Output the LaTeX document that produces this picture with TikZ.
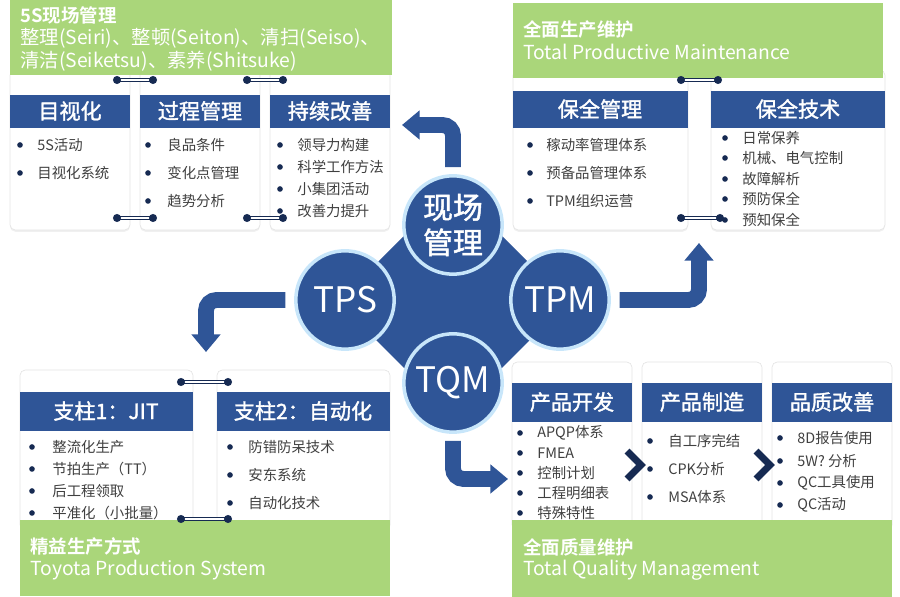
\documentclass[tikz,border=0pt]{standalone}
\usepackage{fontspec}
\setmainfont{Noto Sans CJK SC}[BoldFont={Noto Sans CJK SC Bold}]
\newfontfamily\headfont{Noto Sans CJK SC}[FakeBold=1.6]
\usetikzlibrary{arrows.meta,shadows}
\definecolor{tpblue}{RGB}{47,85,151}
\definecolor{tpgreen}{RGB}{170,214,122}
\definecolor{tpnavy}{RGB}{22,42,82}
\definecolor{tphalo}{RGB}{200,230,250}

\begin{document}
\begin{tikzpicture}[x=0.02cm,y=-0.02cm,
  card/.style={fill=white,draw=black!10,rounded corners=3pt,drop shadow={shadow xshift=0pt,shadow yshift=-1pt,opacity=0.12}},
  band/.style={fill=tpblue},
  panel/.style={fill=tpgreen},
  head/.style={text=white,font=\headfont\fontsize{12}{14}\selectfont,inner sep=0pt},
  item/.style={anchor=west,font=\fontsize{8.2}{10}\selectfont,text=black!75,inner sep=0pt},
  ptitle/.style={anchor=west,text=white,font=\bfseries\fontsize{10.5}{12}\selectfont,inner sep=0pt},
  psub/.style={anchor=west,text=white,font=\fontsize{11}{13}\selectfont,inner sep=0pt},
  hub/.style={circle,fill=tpblue,draw=tphalo,line width=2pt,minimum size=56pt,inner sep=0pt,text=white},
  bigarrow/.style={draw=tpblue,line width=9pt,rounded corners=6pt,-{Triangle[width=16pt,length=10pt]}},
  link/.style={draw=tpnavy,double=white,double distance=1.3pt,line width=0.6pt},
  dot/.style={fill=tpnavy}]
\useasboundingbox (0,0) rectangle (900,597);

% cards, top left
\draw[card] (10,70) rectangle (130,230);
\draw[card] (140,70) rectangle (260,230);
\draw[card] (270,70) rectangle (390,230);
\fill[band] (10,95) rectangle (130,128);
\fill[band] (140,95) rectangle (260,128);
\fill[band] (270,95) rectangle (390,128);
\node[head] (mush) at (70,111) {目视化};
\node[head] (guoc) at (200,111) {过程管理};
\node[head] (chix) at (330,111) {持续改善};
\foreach \y/\t [count=\i] in {145/5S活动,173/目视化系统}
  {\fill[dot] (20,\y) circle (1.6pt); \node[item] (ma\i) at (37,\y) {\t};}
\foreach \y/\t [count=\i] in {145/良品条件,173/变化点管理,201/趋势分析}
  {\fill[dot] (148,\y) circle (1.6pt); \node[item] (mb\i) at (167,\y) {\t};}
\foreach \y/\t [count=\i] in {145/领导力构建,167/科学工作方法,189/小集团活动,211/改善力提升}
  {\fill[dot] (280,\y) circle (1.6pt); \node[item] (mc\i) at (297,\y) {\t};}

% cards, top right
\draw[card] (513,70) rectangle (688,230);
\draw[card] (711,70) rectangle (885,230);
\fill[band] (513,91) rectangle (688,128);
\fill[band] (711,91) rectangle (885,128);
\node[head] (baog) at (600,109) {保全管理};
\node[head] (baoj) at (798,109) {保全技术};
\foreach \y/\t [count=\i] in {145/稼动率管理体系,173/预备品管理体系,201/TPM组织运营}
  {\fill[dot] (530,\y) circle (1.6pt); \node[item] (pa\i) at (546,\y) {\t};}
\foreach \y/\t [count=\i] in {138/日常保养,158/机械、电气控制,179/故障解析,199/预防保全,220/预知保全}
  {\fill[dot] (725,\y) circle (1.6pt); \node[item] (pb\i) at (742,\y) {\t};}

% cards, bottom left
\draw[card] (20,370) rectangle (193,530);
\draw[card] (217,370) rectangle (390,530);
\fill[band] (20,392) rectangle (193,431);
\fill[band] (217,392) rectangle (390,431);
\node[head] (jit) at (106,411) {支柱1：JIT};
\node[head] (zid) at (303,411) {支柱2：自动化};
\foreach \y/\t [count=\i] in {447/整流化生产,469/节拍生产（TT）,491/后工程领取,513/平准化（小批量）}
  {\fill[dot] (32,\y) circle (1.6pt); \node[item] (sa\i) at (52,\y) {\t};}
\foreach \y/\t [count=\i] in {447/防错防呆技术,475/安东系统,503/自动化技术}
  {\fill[dot] (230,\y) circle (1.6pt); \node[item] (sb\i) at (248,\y) {\t};}

% cards, bottom right
\draw[card] (512,362) rectangle (632,530);
\draw[card] (642,362) rectangle (762,530);
\draw[card] (772,362) rectangle (892,530);
\fill[band] (512,383) rectangle (632,422);
\fill[band] (642,383) rectangle (762,422);
\fill[band] (772,383) rectangle (892,422);
\node[head] (kaif) at (572,402) {产品开发};
\node[head] (zhiz) at (702,402) {产品制造};
\node[head] (gais) at (832,402) {品质改善};
\foreach \y/\t [count=\i] in {433/APQP体系,453/FMEA,473/控制计划,493/工程明细表,513/特殊特性}
  {\fill[dot] (520,\y) circle (1.6pt); \node[item] (qa\i) at (537,\y) {\t};}
\foreach \y/\t [count=\i] in {441/自工序完结,469/CPK分析,497/MSA体系}
  {\fill[dot] (650,\y) circle (1.6pt); \node[item] (qb\i) at (668,\y) {\t};}
\foreach \y/\t [count=\i] in {438/8D报告使用,461/5W? 分析,483/QC工具使用,505/QC活动}
  {\fill[dot] (780,\y) circle (1.6pt); \node[item] (qc\i) at (797,\y) {\t};}
\draw[tpnavy,line width=4pt] (627,451) -- (641,465) -- (627,479);
\draw[tpnavy,line width=4pt] (756,451) -- (770,465) -- (756,479);

% green panels
\fill[panel] (10,0) rectangle (392,75);
\node[ptitle] (wus) at (20,15) {5S现场管理};
\node[psub] (wus1) at (20,38) {整理(Seiri)、整顿(Seiton)、清扫(Seiso)、};
\node[psub] (wus2) at (20,61) {清洁(Seiketsu)、素养(Shitsuke)};
\fill[panel] (513,3) rectangle (883,78);
\node[ptitle] (tpmt) at (523,30) {全面生产维护};
\node[psub] (tpms) at (523,52) {Total Productive Maintenance};
\fill[panel] (20,520) rectangle (390,596);
\node[ptitle] (tpst) at (30,546) {精益生产方式};
\node[psub] (tpss) at (30,570) {Toyota Production System};
\fill[panel] (512,520) rectangle (892,597);
\node[ptitle] (tqmt) at (523,547) {全面质量维护};
\node[psub] (tqms) at (523,570) {Total Quality Management};

% links between cards
\foreach \n/\xa/\xb/\y in {la/117/153/80,lb/247/283/80,lc/117/153/218,ld/247/283/218,
    le/681/718/80,lf/681/720/218,lg/181/228/382,lh/181/228/519}
  {\coordinate (\n1) at (\xa,\y); \coordinate (\n2) at (\xb,\y);
   \draw[link] (\n1) -- (\n2);
   \fill[dot] (\n1) circle (2.3pt) (\n2) circle (2.3pt);}

% hub
\fill[tpblue,rounded corners=8pt] (338,302) -- (453,187) -- (568,302) -- (453,417) -- cycle;
\node[hub,align=center,font=\headfont\fontsize{17}{20}\selectfont] (xc) at (453,225) {现场\\管理};
\node[hub,font=\fontsize{20}{24}\selectfont] (tps) at (345,300) {TPS};
\node[hub,font=\fontsize{20}{24}\selectfont] (tpm) at (560,300) {TPM};
\node[hub,font=\fontsize{20}{24}\selectfont] (tqm) at (453,383) {TQM};

\coordinate (tip5s) at (402,125);
\coordinate (tiptpm) at (699,243);
\coordinate (tiptps) at (206,352);
\coordinate (tiptqm) at (508,479);
\draw[bigarrow] ([yshift=4pt]xc.north) |- (tip5s);
\draw[bigarrow] ([xshift=5pt]tpm.east) -| (tiptpm);
\draw[bigarrow] ([xshift=-5pt]tps.west) -| (tiptps);
\draw[bigarrow] ([yshift=-4pt]tqm.south) |- (tiptqm);
\end{tikzpicture}
\end{document}
